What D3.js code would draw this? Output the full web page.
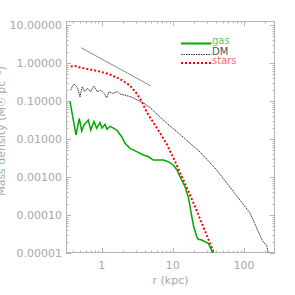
<!DOCTYPE html>
<html>
<head>
<meta charset="utf-8">
<script src="https://cdn.jsdelivr.net/npm/d3@7"></script>
<style>
html,body{margin:0;padding:0;background:#fff;}
svg{display:block;}
text{font-family:"DejaVu Sans",sans-serif;}
</style>
</head>
<body>
<div id="chart"></div>
<script>
// ---- data ----
const gasR = [0.3584,0.4352,0.4843,0.5236,0.5640,0.6479,0.7005,0.7794,0.8505,0.9465,1.0097,1.1127,1.187,1.308,1.489,1.641,1.910,2.126,2.499,3.104,3.843,4.474,5.311,6.184,7.339,8.632,10.15,11.44,12.60,14.82,16.49,17.42,19.39,21.64,22.79,25.44,28.31,31.49,33.27,36.32];
const gasRho = [0.0959,0.01275,0.03505,0.01624,0.02336,0.03162,0.01725,0.02887,0.01913,0.02718,0.01948,0.02408,0.01800,0.02159,0.01913,0.01674,0.01149,0.0077,0.00569,0.00463,0.00379,0.00346,0.0028,0.0028,0.0028,0.00253,0.00207,0.00153,0.00102,0.000556,0.000298,0.000165,5.46e-5,2.69e-5,2.30e-5,2.20e-5,1.98e-5,1.80e-5,1.47e-5,1.0e-5];

const dmR = [0.3667,0.3887,0.408,0.4352,0.457,0.4955,0.5338,0.577,0.6275,0.7005,0.7424,0.7794,0.8672,0.968,1.077,1.176,1.266,1.409,1.657,1.808,2.058,2.556,3.165,3.932,4.884,6.598,9.12,13.89,24.07,41.33,70.03,121.4,184.9,208.4,219.5];
const dmRho = [0.1948,0.248,0.280,0.248,0.2198,0.1298,0.2378,0.1757,0.2159,0.1757,0.2198,0.248,0.1757,0.1948,0.1585,0.1221,0.1757,0.1585,0.1757,0.1528,0.1438,0.1298,0.1062,0.0870,0.0643,0.0379,0.02198,0.0113,0.00455,0.00153,0.000428,0.000113,1.95e-5,1.63e-5,1.0e-5];

const starsR = [0.3667,0.4214,0.4955,0.6847,0.9465,1.308,1.808,2.499,3.134,3.685,4.29,5.26,6.598,8.196,9.12,11.33,14.03,17.42,21.16,24.07,29.91,34.38,37.88];
const starsRho = [0.809,0.834,0.761,0.6745,0.5976,0.498,0.3793,0.2558,0.1528,0.0941,0.0513,0.02802,0.01438,0.00739,0.00483,0.00207,0.000834,0.000336,0.000144,7.85e-5,2.98e-5,1.53e-5,1.0e-5];

const refR = [0.5117,4.931];
const refRho = [2.527,0.248];

const xTickValues = [1,10,100];
const xTickLabels = ["1","10","100"];
const yTickValues = [10,1,0.1,0.01,0.001,0.0001,0.00001];
const yTickLabels = ["10.00000","1.00000","0.10000","0.01000","0.00100","0.00010","0.00001"];

const legendNames = ["gas","DM","stars"];
const xTitle = "r (kpc)";
const yTitle = "Mass density (M\u2609 pc\u207B\u00B3)";

// ---- layout ----
const W = 295, H = 295;
const L = 66, R = 275, T = 21, B = 253;
const axisCol = "#b4b4b4";
const textCol = "#a8a8a8";

const x = d3.scaleLog().domain([0.3148, 272.8]).range([L, R]);
const y = d3.scaleLog().domain([1e-5, 12.74]).range([B, T]);

const svg = d3.select("#chart").append("svg").attr("width", W).attr("height", H);

svg.append("defs").append("clipPath").attr("id","clip")
  .append("rect").attr("x",L).attr("y",T).attr("width",R-L).attr("height",B-T);

// minor tick values
function minors(lo, hi){
  const out=[];
  for(let e=Math.floor(Math.log10(lo))-1;e<=Math.ceil(Math.log10(hi));e++){
    for(let m=1;m<10;m++){ const v=m*Math.pow(10,e); if(v>=lo&&v<=hi) out.push({v, major:m===1}); }
  }
  return out;
}
const xMin = minors(x.domain()[0], x.domain()[1]);
const yMin = minors(y.domain()[0], y.domain()[1]);

const g = svg.append("g");
// frame
g.append("rect").attr("x",L+0.5).attr("y",T+0.5).attr("width",R-L-1).attr("height",B-T-1)
  .attr("fill","none").attr("stroke",axisCol).attr("stroke-width",1);

// ticks: bottom/top
xMin.forEach(t=>{
  const px = Math.round(x(t.v))+0.5;
  const len = t.major?5:2.5;
  g.append("line").attr("x1",px).attr("x2",px).attr("y1",B).attr("y2",B-len).attr("stroke",axisCol);
  g.append("line").attr("x1",px).attr("x2",px).attr("y1",T).attr("y2",T+len).attr("stroke",axisCol);
});
yMin.forEach(t=>{
  const py = Math.round(y(t.v))+0.5;
  const len = t.major?5:2.5;
  g.append("line").attr("x1",L).attr("x2",L+len).attr("y1",py).attr("y2",py).attr("stroke",axisCol);
  g.append("line").attr("x1",R).attr("x2",R-len).attr("y1",py).attr("y2",py).attr("stroke",axisCol);
});

// tick labels
g.selectAll(".xl").data(xTickValues).enter().append("text")
  .attr("x",d=>x(d)).attr("y",B+16).attr("text-anchor","middle")
  .attr("font-size",11).attr("fill",textCol).text((d,i)=>xTickLabels[i]);
g.selectAll(".yl").data(yTickValues).enter().append("text")
  .attr("x",L-4).attr("y",d=>y(d)+4).attr("text-anchor","end")
  .attr("font-size",11).attr("fill",textCol).text((d,i)=>yTickLabels[i]);

// axis titles
g.append("text").attr("x",(L+R)/2).attr("y",B+31).attr("text-anchor","middle")
  .attr("font-size",11).attr("fill",textCol).text(xTitle);
g.append("text").attr("transform",`translate(4.5,${(T+B)/2-6}) rotate(-90)`)
  .attr("text-anchor","middle").attr("font-size",11).attr("fill",textCol).text(yTitle);

// lines
const line = d3.line().x(d=>x(d[0])).y(d=>y(d[1]));
const plot = svg.append("g").attr("clip-path","url(#clip)");
const zip = (a,b)=>a.map((v,i)=>[v,b[i]]);

plot.append("path").attr("d",line(zip(refR,refRho))).attr("fill","none")
  .attr("stroke","#8c8c8c").attr("stroke-width",1);
plot.append("path").attr("d",line(zip(dmR,dmRho))).attr("fill","none")
  .attr("stroke","#333").attr("stroke-width",1).attr("stroke-dasharray","1.5,0.8");
plot.append("path").attr("d",line(zip(starsR,starsRho))).attr("fill","none")
  .attr("stroke","#ff0000").attr("stroke-width",2).attr("stroke-dasharray","2,2");
plot.append("path").attr("d",line(zip(gasR,gasRho))).attr("fill","none")
  .attr("stroke","#00a800").attr("stroke-width",1.5);

// legend
const legStyles = [
  {stroke:"#00a800", w:2, dash:null, text:"#5ccc5c"},
  {stroke:"#333333", w:1, dash:"1.5,1", text:"#555555"},
  {stroke:"#ff0000", w:2, dash:"2,2", text:"#ff6b6b"}
];
const legY = [43.5, 54.5, 63];
legendNames.forEach((n,i)=>{
  const s = legStyles[i];
  const ln = svg.append("line").attr("x1",181).attr("x2",211.5).attr("y1",legY[i]).attr("y2",legY[i])
    .attr("stroke",s.stroke).attr("stroke-width",s.w);
  if(s.dash) ln.attr("stroke-dasharray",s.dash);
  svg.append("text").attr("x",212).attr("y",legY[i]+0.5).attr("font-size",10)
    .attr("fill",s.text).text(n);
});
</script>
</body>
</html>
